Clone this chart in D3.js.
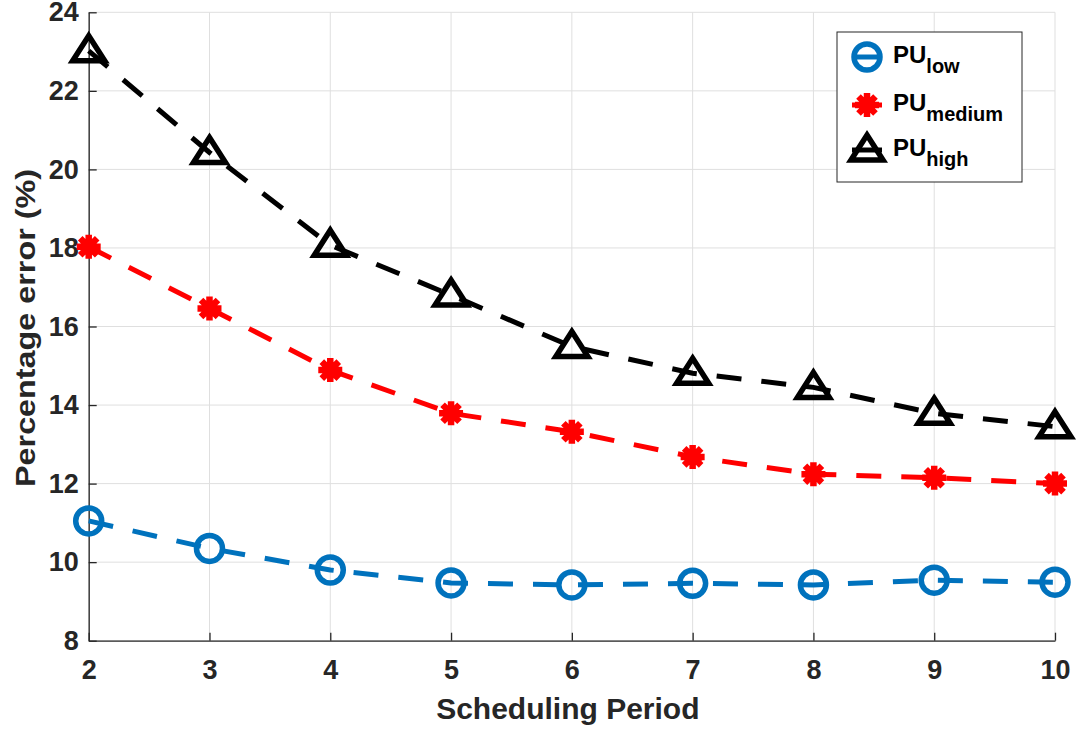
<!DOCTYPE html>
<html>
<head>
<meta charset="utf-8">
<script src="https://cdn.jsdelivr.net/npm/d3@7"></script>
<style>
  body { margin: 0; background: #fff; }
  text { font-family: "Liberation Sans", Arial, sans-serif; font-weight: bold; }
</style>
</head>
<body>
<div id="chart"></div>
<script>
// data
const periods   = [2, 3, 4, 5, 6, 7, 8, 9, 10];
const puLow     = [11.05, 10.35, 9.8, 9.47, 9.42, 9.46, 9.42, 9.54, 9.49];
const puMedium  = [18.03, 16.46, 14.89, 13.79, 13.32, 12.68, 12.24, 12.15, 12.0];
const puHigh    = [23.02, 20.43, 18.07, 16.8, 15.49, 14.81, 14.45, 13.79, 13.45];
const yTicks    = [8, 10, 12, 14, 16, 18, 20, 22, 24];
const seriesNames = [["PU", "low"], ["PU", "medium"], ["PU", "high"]];

const W = 1080, H = 733;
const margin = {top: 12.3, right: 25, bottom: 92.3, left: 88.7};
const width = W - margin.left - margin.right;
const height = H - margin.top - margin.bottom;

const svg = d3.select("#chart").append("svg")
    .attr("width", W)
    .attr("height", H);

const g = svg.append("g")
    .attr("transform", `translate(${margin.left},${margin.top})`);

const x = d3.scaleLinear().domain([2, 10]).range([0, width]);
const y = d3.scaleLinear().domain([8, 24]).range([height, 0]);

const axisColor = "#262626";

// grid
g.selectAll(".vgrid").data(periods).enter().append("line")
    .attr("x1", d => x(d)).attr("x2", d => x(d))
    .attr("y1", 0).attr("y2", height)
    .attr("stroke", "#dfdfdf").attr("stroke-width", 1);
g.selectAll(".hgrid").data(yTicks).enter().append("line")
    .attr("x1", 0).attr("x2", width)
    .attr("y1", d => y(d)).attr("y2", d => y(d))
    .attr("stroke", "#dfdfdf").attr("stroke-width", 1);

// axes
const xAxis = g.append("g")
    .attr("transform", `translate(0,${height})`)
    .call(d3.axisBottom(x).tickValues(periods).tickSizeInner(-8).tickSizeOuter(0).tickPadding(19));
const yAxis = g.append("g")
    .call(d3.axisLeft(y).tickValues(yTicks).tickSizeInner(-8).tickSizeOuter(0).tickPadding(10));

[xAxis, yAxis].forEach(a => {
    a.select(".domain").attr("stroke", axisColor).attr("stroke-width", 1.3);
    a.selectAll(".tick line").attr("stroke", axisColor).attr("stroke-width", 1.3);
    a.selectAll(".tick text")
        .attr("fill", axisColor)
        .style("font-size", "27px")
        .style("font-family", "'Liberation Sans', Arial, sans-serif")
        .style("font-weight", "bold");
});
xAxis.selectAll(".tick text").attr("dy", "0.71em");

// axis labels
svg.append("text")
    .attr("x", margin.left + width / 2 - 4)
    .attr("y", 719)
    .attr("text-anchor", "middle")
    .attr("fill", axisColor)
    .style("font-size", "30px")
    .text("Scheduling Period");

svg.append("text")
    .attr("transform", "translate(35,328) rotate(-90)")
    .attr("text-anchor", "middle")
    .attr("fill", axisColor)
    .attr("textLength", 318)
    .attr("lengthAdjust", "spacingAndGlyphs")
    .style("font-size", "28px")
    .text("Percentage error (%)");

// markers
function drawMarker(sel, type, color) {
    if (type === "circle") {
        sel.append("circle").attr("r", 13)
            .attr("fill", "none").attr("stroke", color).attr("stroke-width", 5.5);
    } else if (type === "star") {
        const r = 12, d = r * Math.SQRT1_2;
        sel.append("path")
            .attr("d", `M${-r},0L${r},0M0,${-r}L0,${r}M${-d},${-d}L${d},${d}M${-d},${d}L${d},${-d}`)
            .attr("fill", "none").attr("stroke", color).attr("stroke-width", 6.5);
    } else {
        sel.append("path")
            .attr("d", "M0,-15L16,10L-16,10Z")
            .attr("fill", "none").attr("stroke", color).attr("stroke-width", 5.5)
            .attr("stroke-linejoin", "miter");
    }
}

const series = [
    {values: puLow, color: "#0072BD", marker: "circle"},
    {values: puMedium, color: "#FF0000", marker: "star"},
    {values: puHigh, color: "#000000", marker: "triangle"}
];

const line = d3.line()
    .x((d, i) => x(periods[i]))
    .y(d => y(d));

series.forEach(s => {
    g.append("path")
        .datum(s.values)
        .attr("d", line)
        .attr("fill", "none")
        .attr("stroke", s.color)
        .attr("stroke-width", 5)
        .attr("stroke-dasharray", "25,20");

    g.selectAll(null).data(s.values).enter().append("g")
        .attr("transform", (d, i) => `translate(${x(periods[i])},${y(d)})`)
        .each(function() { drawMarker(d3.select(this), s.marker, s.color); });
});

// legend
const legend = svg.append("g");
legend.append("rect")
    .attr("x", 837).attr("y", 32)
    .attr("width", 185).attr("height", 150)
    .attr("fill", "#fff").attr("stroke", axisColor).attr("stroke-width", 1);

const rowY = [57, 105, 150];
series.forEach((s, i) => {
    const row = legend.append("g").attr("transform", `translate(867,${rowY[i]})`);
    row.append("line").attr("x1", -15).attr("x2", 15)
        .attr("stroke", s.color).attr("stroke-width", 5);
    drawMarker(row, s.marker, s.color);
    const t = legend.append("text")
        .attr("x", 893).attr("y", rowY[i] + 6)
        .attr("fill", "#000")
        .style("font-size", "24px");
    t.append("tspan").text(seriesNames[i][0]);
    t.append("tspan").attr("dy", 10).style("font-size", "20px").text(seriesNames[i][1]);
});
</script>
</body>
</html>
